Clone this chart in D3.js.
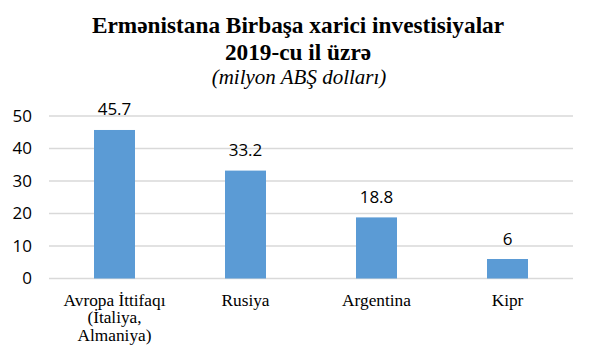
<!DOCTYPE html>
<html><head><meta charset="utf-8">
<script src="https://cdn.jsdelivr.net/npm/d3@7"></script>
<style>body{margin:0;background:#fff}svg{display:block}</style>
</head><body>
<svg id="c" width="590" height="352"></svg>
<script>
const categories = [["Avropa İttifaqı","(İtaliya,","Almaniya)"],["Rusiya"],["Argentina"],["Kipr"]];
const values = [45.7, 33.2, 18.8, 6];
const labels = ["45.7","33.2","18.8","6"];
const yTicks = [0,10,20,30,40,50];
const titleLines = ["Ermənistana Birbaşa xarici investisiyalar","2019-cu il üzrə"];
const subtitle = "(milyon ABŞ dolları)";

(function(){
const SERIF = "'Liberation Serif', 'Times New Roman', serif";
const SANS = "'Open Sans', sans-serif";
const svg = d3.select("#c");
const pl = 49, pr = 573, pt = 116, pb = 278.5;
const x = d3.scaleBand().domain(d3.range(values.length)).range([pl,pr]).paddingInner(0.687).paddingOuter(0.3435);
const y = d3.scaleLinear().domain([0,50]).range([pb,pt]);

svg.append("g").selectAll("line").data(yTicks).join("line")
  .attr("x1",pl).attr("x2",pr).attr("y1",d=>y(d)).attr("y2",d=>y(d))
  .attr("stroke","#d9d9d9").attr("stroke-width",1.3);

const yAxis = d3.axisLeft(y).tickValues(yTicks).tickSize(0).tickPadding(17);
const ga = svg.append("g").attr("transform",`translate(${pl},0)`).call(yAxis);
ga.attr("font-family",SANS).attr("font-size",17);
ga.select(".domain").remove();
ga.selectAll("text").attr("font-family",SANS).attr("font-size",17).attr("fill","#000");

svg.append("g").selectAll("rect").data(values).join("rect")
  .attr("x",(d,i)=>x(i)).attr("width",x.bandwidth())
  .attr("y",d=>y(d)).attr("height",d=>y(0)-y(d)).attr("fill","#5b9bd5");

svg.append("g").selectAll("text").data(values).join("text")
  .attr("font-family",SANS)
  .attr("x",(d,i)=>x(i)+x.bandwidth()/2).attr("y",d=>y(d)-14.5)
  .attr("text-anchor","middle").attr("font-size",17)
  .attr("fill","#000").text((d,i)=>labels[i]);

const cg = svg.append("g").selectAll("text").data(categories).join("text")
  .attr("font-family",SERIF)
  .attr("text-anchor","middle").attr("font-size",17.3).attr("fill","#000");
cg.each(function(lines,i){
  const t = d3.select(this);
  lines.forEach((l,j)=>t.append("tspan").attr("x",x(i)+x.bandwidth()/2).attr("y",305.5+j*17.8).text(l));
});

const tg = svg.append("g").attr("text-anchor","middle");
const tY = [33.3, 60];
titleLines.forEach((l,j)=>tg.append("text").attr("font-family",SERIF).attr("x",298).attr("y",tY[j]).attr("font-size",23.3).attr("font-weight","bold").attr("fill","#000").text(l));
tg.append("text").attr("font-family",SERIF).attr("x",299).attr("y",84).attr("font-size",21).attr("font-style","italic").attr("fill","#000").text(subtitle);
})();
</script>
</body></html>
